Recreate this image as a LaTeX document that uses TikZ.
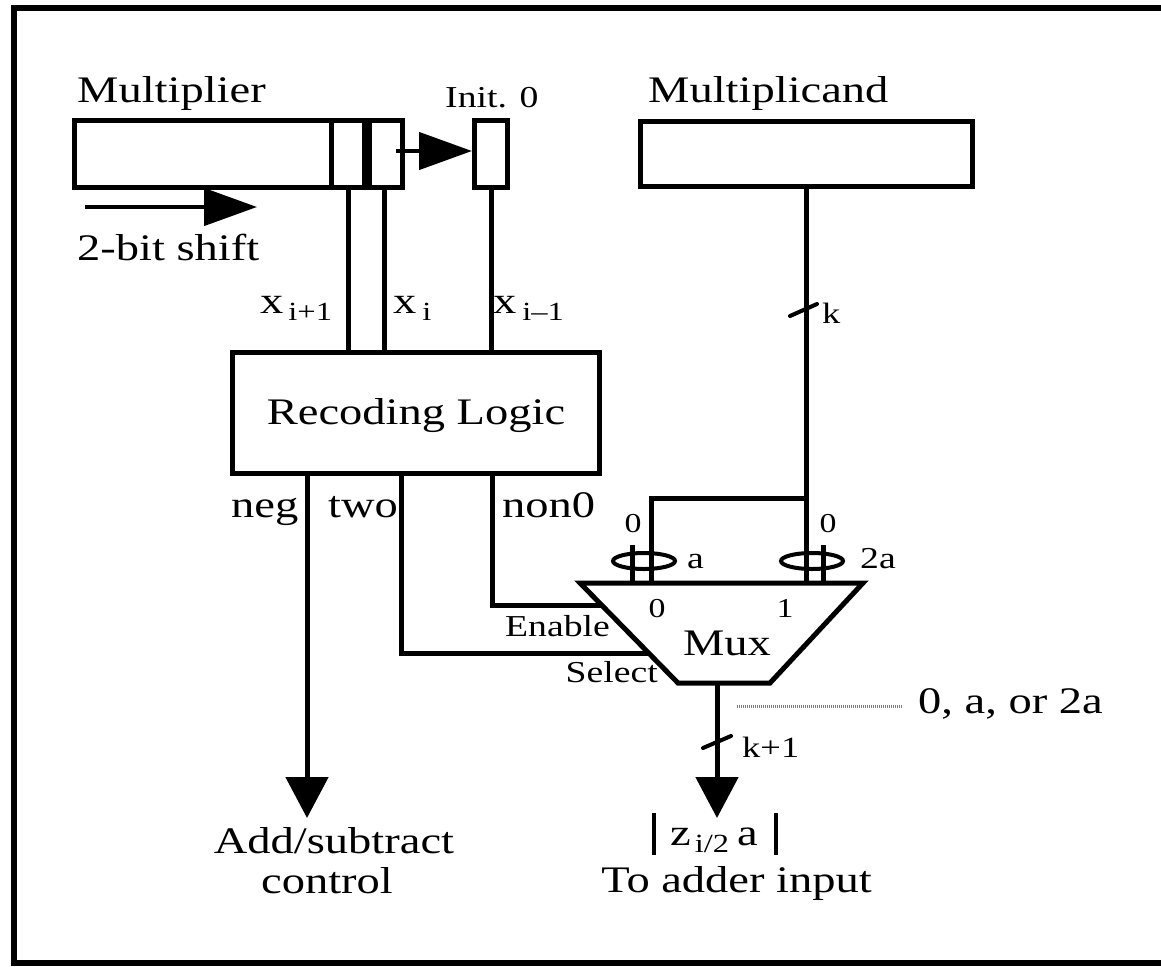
\documentclass[tikz,border=0pt]{standalone}
\usepackage{fontspec}
\setmainfont{Liberation Serif}[FakeStretch=1.24]
\usetikzlibrary{arrows.meta,calc}
\newcommand\mysub[1]{\raisebox{-7pt}{\fontsize{26.2}{28}\selectfont #1}}
\begin{document}
\begin{tikzpicture}[x=1pt,y=-1pt,
  box/.style={draw, line width=5pt, inner sep=0pt},
  wire/.style={line width=5pt},
  bigarrow/.style={line width=5pt, -{Triangle[length=41pt,width=42pt]}},
  harrow/.style={line width=4.5pt, -{Triangle[length=53pt,width=37pt]}},
  slash/.style={line width=4pt, line cap=round},
  txt/.style={inner sep=0pt, font=\fontsize{37.5}{42}\selectfont},
  txtm/.style={inner sep=0pt, font=\fontsize{30.4}{34}\selectfont},
  txtk/.style={inner sep=0pt, font=\fontsize{29.4}{32}\selectfont},
  txts/.style={inner sep=0pt, font=\fontsize{27.3}{30}\selectfont},
]
\useasboundingbox (0,0) rectangle (1161,966);
% frame
\draw[line width=6pt] (1175,8) -- (14,8) -- (14,963) -- (1175,963);

% registers
\node[box, anchor=north west, minimum width=328pt, minimum height=67pt] (mplier) at (72,118) {};
\node[box, anchor=north east, minimum width=33pt, minimum height=67pt] (cA) at (mplier.north east) {};
\node[box, anchor=north east, minimum width=33pt, minimum height=67pt] (cB) at (cA.north west) {};
\node[box, anchor=north west, minimum width=33pt, minimum height=67pt] (init) at (472,118) {};
\node[box, anchor=north west, minimum width=332pt, minimum height=65pt] (mcand) at (638,119) {};
\node[box, anchor=north west, minimum width=367pt, minimum height=121pt] (rec) at (230,350) {};

% texts top
\node[txt, anchor=base west] (tMplier) at (77,102) {Multiplier};
\node[txtm, anchor=base west] (tInit) at (445,107) {Init. 0};
\node[txt, anchor=base west] (tMcand) at (648,102) {Multiplicand};
\node[txt, anchor=base west] (tShift) at (77,260) {2-bit shift};
\node[txt, anchor=base west] (tx1) at (260,313) {x\hspace{5pt}\mysub{i+1}};
\node[txt, anchor=base west] (tx2) at (393,313) {x\hspace{6pt}\mysub{i}};
\node[txt, anchor=base west] (tx3) at (493,313) {x\hspace{6pt}\mysub{i\textendash 1}};
\node[txt, anchor=base] (tRec) at (416,424) {Recoding Logic};
\node[txt, anchor=base west] (tneg) at (231,517) {neg};
\node[txt, anchor=base west] (ttwo) at (328,517) {two};
\node[txt, anchor=base west] (tnon) at (502,517) {non0};

% arrows top
\coordinate (shS) at (85,207);
\coordinate (shE) at (257,207);
\draw[harrow] (shS) -- (shE);
\draw[harrow] ($(cA.center)+(10,-3)$) -- ($(init.west)+(0,-3)$);

% bit wires
\draw[wire] ($(cB.south)+(0,-4)$) -- (cB.south |- rec.north);
\draw[wire] ($(cA.south)+(-2,0)$) -- ($(cA.south |- rec.north)+(-2,0)$);
\draw[wire] ($(init.south)+(0,-4)$) -- (init.south |- rec.north);

% mux
\coordinate (mTL) at (580,583);
\coordinate (mTR) at (863,583);
\coordinate (mBR) at (770,683);
\coordinate (mBL) at (678,683);
\draw[line width=5pt] (mTL) -- (mTR) -- (mBR) -- (mBL) -- cycle;

\coordinate (jy) at (0,498);
\coordinate (inA) at (651,583);
\coordinate (inA0) at (632,583);
\coordinate (in2A0) at (823,583);
\draw[wire] (mcand.south) -- (mcand.south |- mTL);
\draw[wire] (mcand.south |- jy) -- (inA |- jy) -- (inA);
\draw[wire] (inA0) -- ++(0,-38);
\draw[wire] (in2A0) -- ++(0,-38);
\draw[line width=4pt] (644,561) ellipse [x radius=31, y radius=8];
\draw[line width=4pt] (812,561) ellipse [x radius=31, y radius=8];

\node[txts, anchor=base] (z1) at (633,532) {0};
\node[txts, anchor=base] (z2) at (828,532) {0};
\node[txtm, anchor=base west] (la) at (687,568) {a};
\node[txtm, anchor=base west] (l2a) at (860,568) {2a};
\node[txts, anchor=base] (m0) at (657,617) {0};
\node[txts, anchor=base] (m1) at (785,617) {1};
\node[txt, anchor=base] (tMux) at (727,655) {Mux};
\node[txtm, anchor=base east] (tEn) at (610,636) {Enable};
\node[txtm, anchor=base east] (tSel) at (658,682) {Select};

% control wires
\coordinate (negX) at (307,0);
\coordinate (twoX) at (401,0);
\coordinate (nonX) at (492,0);
\coordinate (outX) at (717,0);
\coordinate (tipY) at (0,818);
\draw[wire] (rec.south -| nonX) |- ($(mTL)!0.22!(mBL)$);
\draw[wire] (rec.south -| twoX) |- ($(mTL)!0.70!(mBL)$);
\draw[bigarrow] (rec.south -| negX) -- (negX |- tipY);
\draw[bigarrow] (mBL -| outX) -- (outX |- tipY);

% bus widths
\draw[slash] (790,316) -- (817,304);
\node[txtk, anchor=base west] (tk) at (822,323) {k};
\draw[slash] (703,748) -- (731,736);
\node[txtk, anchor=base west] (tk1) at (742,757) {k+1};

% annotation
\draw[gray, line width=3pt, dash pattern=on 1pt off 1pt] (737,706) -- (903,706);
\node[txt, anchor=base west] (tor) at (918,713) {0, a, or 2a};

% outputs
\draw[line width=4pt] (654,813) -- (654,855);
\draw[line width=4pt] (776,813) -- (776,855);
\node[txt, anchor=base west] (tz) at (670,845) {z\hspace{4pt}\mysub{i/2}\hspace{8pt}a};
\node[txt, anchor=base east] (tadd) at (872,892) {To adder input};
\node[txt, anchor=base] (tas) at (334,853) {Add/subtract};
\node[txt, anchor=base] (tctl) at (327,893) {control};
\end{tikzpicture}
\end{document}
